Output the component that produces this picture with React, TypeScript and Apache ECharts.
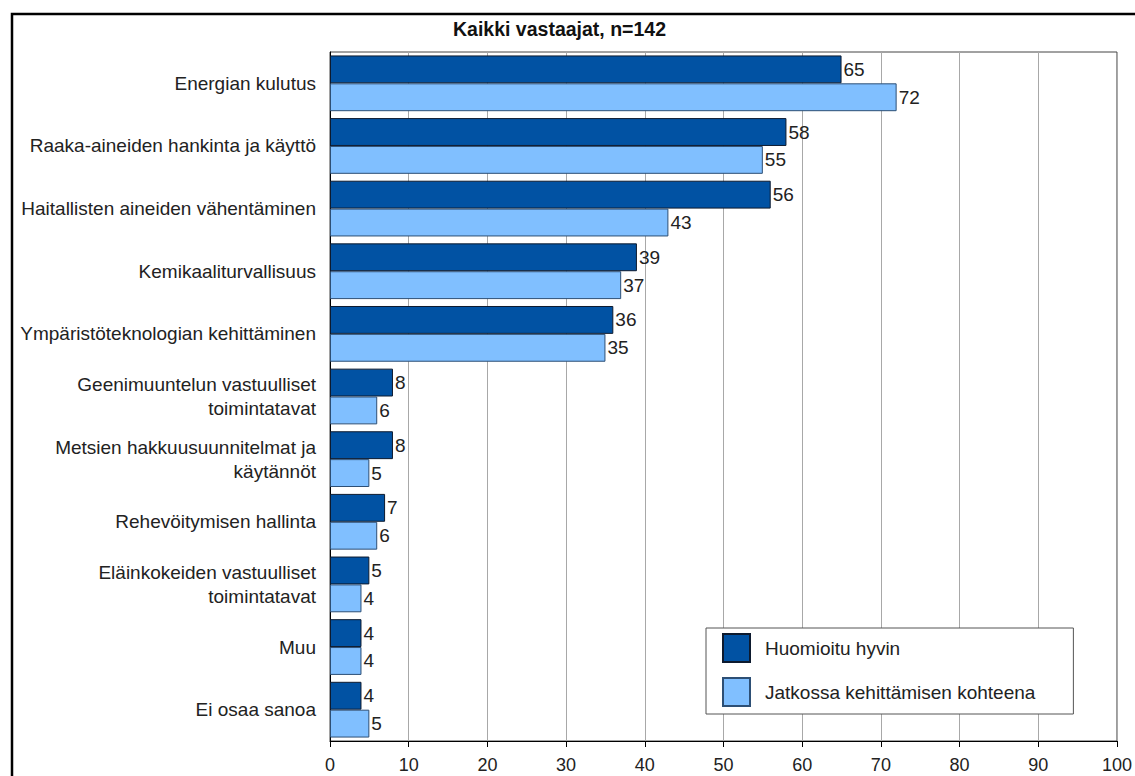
import React, { useEffect, useRef } from "react";
import * as echarts from "echarts";

const categories = [
  "Energian kulutus",
  "Raaka-aineiden hankinta ja käyttö",
  "Haitallisten aineiden vähentäminen",
  "Kemikaaliturvallisuus",
  "Ympäristöteknologian kehittäminen",
  "Geenimuuntelun vastuulliset\ntoimintatavat",
  "Metsien hakkuusuunnitelmat ja\nkäytännöt",
  "Rehevöitymisen hallinta",
  "Eläinkokeiden vastuulliset\ntoimintatavat",
  "Muu",
  "Ei osaa sanoa",
];
const huomioituHyvin = [65, 58, 56, 39, 36, 8, 8, 7, 5, 4, 4];
const jatkossaKehittamisen = [72, 55, 43, 37, 35, 6, 5, 6, 4, 4, 5];
const seriesNames = ["Huomioitu hyvin", "Jatkossa kehittämisen kohteena"];
const titleText = "Kaikki vastaajat, n=142";

const FONT = "'Liberation Sans', Arial, sans-serif";

export default function App() {
  const ref = useRef<HTMLDivElement>(null);
  useEffect(() => {
    if (!ref.current) return;
    const chart = echarts.init(ref.current, undefined, { renderer: "svg" });
    const labelCfg = {
      show: true,
      position: "right",
      distance: 2,
      fontSize: 19,
      color: "#222",
      fontFamily: FONT,
    };
    chart.setOption({
      animation: false,
      backgroundColor: "#ffffff",
      textStyle: { fontFamily: FONT },
      title: {
        text: titleText,
        left: 453,
        top: 19,
        padding: 0,
        textStyle: { fontSize: 19.5, fontWeight: "bold", color: "#111", fontFamily: FONT },
      },
      legend: {
        orient: "vertical",
        left: 706,
        top: 628,
        padding: [5, 38, 7, 16],
        itemWidth: 27,
        itemHeight: 28,
        itemGap: 14,
        icon: "rect",
        backgroundColor: "#ffffff",
        borderColor: "#555",
        borderWidth: 1,
        textStyle: { fontSize: 19, color: "#222", fontFamily: FONT, padding: [0, 0, 0, 10] },
        data: seriesNames,
      },
      grid: {
        left: 330,
        right: 18,
        top: 52,
        bottom: 35,
        show: true,
        borderColor: "#444",
        borderWidth: 1,
        backgroundColor: "transparent",
      },
      xAxis: {
        type: "value",
        min: 0,
        max: 100,
        interval: 10,
        axisLine: { show: true, lineStyle: { color: "#000", width: 1 } },
        axisTick: { show: true, length: 6, lineStyle: { color: "#000" } },
        axisLabel: { fontSize: 18, color: "#222", margin: 15, fontFamily: FONT },
        splitLine: { show: true, lineStyle: { color: "#a8a8a8", width: 1 } },
      },
      yAxis: {
        type: "category",
        inverse: true,
        data: categories,
        axisLine: { show: true, lineStyle: { color: "#000", width: 1 } },
        axisTick: { show: false },
        axisLabel: {
          fontSize: 19,
          color: "#222",
          margin: 14,
          lineHeight: 24,
          align: "right",
          fontFamily: FONT,
        },
      },
      series: [
        {
          name: seriesNames[0],
          type: "bar",
          data: huomioituHyvin,
          barGap: "0%",
          barCategoryGap: "11%",
          itemStyle: { color: "#0152a3", borderColor: "#0d1a2e", borderWidth: 1 },
          label: labelCfg,
        },
        {
          name: seriesNames[1],
          type: "bar",
          data: jatkossaKehittamisen,
          barGap: "0%",
          barCategoryGap: "11%",
          itemStyle: { color: "#80bfff", borderColor: "#2d4f75", borderWidth: 1 },
          label: labelCfg,
        },
      ],
      graphic: [
        {
          type: "rect",
          left: 9.5,
          top: 11.5,
          shape: { x: 0, y: 0, width: 1400, height: 1000 },
          style: { fill: "none", stroke: "#000", lineWidth: 2.5 },
          silent: true,
          z: 100,
        },
      ],
    });
    return () => chart.dispose();
  }, []);
  return (
    <div
      ref={ref}
      style={{ position: "fixed", left: 0, top: 0, width: 1135, height: 776 }}
    />
  );
}
